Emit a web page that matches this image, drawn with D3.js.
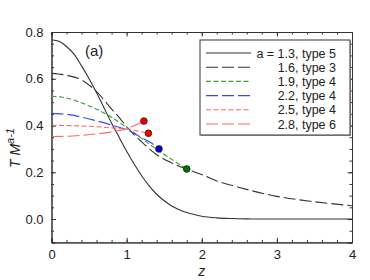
<!DOCTYPE html>
<html><head><meta charset="utf-8">
<script src="https://cdn.jsdelivr.net/npm/d3@7"></script>
<style>
html,body{margin:0;padding:0;background:#fff;}
svg text{font-family:"Liberation Sans",Arial,sans-serif;}
</style></head>
<body><svg id="c" width="370" height="280"></svg>
<script>
// ---- data ----
const z13 = [0,0.1,0.2,0.3,0.4,0.5,0.6,0.7,0.8,0.9,1.0,1.1,1.2,1.3,1.4,1.5,1.6,1.7,1.8,1.9,2.0,2.2,2.4,2.6,2.8,3.0,3.5,4.0];
const v13 = [0.767,0.760,0.738,0.705,0.655,0.600,0.540,0.475,0.410,0.350,0.290,0.235,0.185,0.142,0.106,0.078,0.056,0.040,0.028,0.019,0.012,0.005,0.002,0.0005,0,0,0,0];
const z16 = [0,0.2,0.4,0.6,0.8,0.9,1.0,1.2,1.4,1.6,1.8,2.0,2.2,2.5,3.0,3.5,4.0];
const v16 = [0.623,0.615,0.595,0.545,0.47,0.435,0.395,0.33,0.275,0.24,0.213,0.19,0.163,0.135,0.097,0.074,0.057];
const z19 = [0,0.2,0.4,0.6,0.8,1.0,1.2,1.4,1.6,1.8];
const v19 = [0.525,0.518,0.497,0.47,0.435,0.392,0.345,0.298,0.255,0.214];
const z22 = [0,0.2,0.4,0.6,0.8,1.0,1.2,1.33,1.43];
const v22 = [0.452,0.448,0.436,0.42,0.402,0.382,0.348,0.325,0.30];
const z25 = [0,0.2,0.4,0.6,0.8,1.0,1.2,1.29];
const v25 = [0.401,0.400,0.398,0.395,0.39,0.384,0.373,0.367];
const z28 = [0,0.2,0.4,0.6,0.8,1.0,1.1,1.23];
const v28 = [0.353,0.354,0.358,0.364,0.373,0.386,0.399,0.419];
const legendLabels = ["a = 1.3, type 5","1.6, type 3","1.9, type 4","2.2, type 4","2.5, type 4","2.8, type 6"];
const xTicks = [0,1,2,3,4];
const yTicks = [0.0,0.2,0.4,0.6,0.8];

const series = [
  {z:z13, v:v13, color:"#333333", dash:null, dot:null},
  {z:z16, v:v16, color:"#333333", dash:"12,4", dot:null},
  {z:z19, v:v19, color:"#33a033", dash:"5,2.5", dot:"#007000"},
  {z:z22, v:v22, color:"#4040ff", dash:"12,4", dot:"#0000dd"},
  {z:z25, v:v25, color:"#ff6666", dash:"5,2.5", dot:"#ee0000"},
  {z:z28, v:v28, color:"#ff6666", dash:"12,4", dot:"#ee0000"}
];

const svg = d3.select("#c");
const L=51.5, R=352, T=32, B=242.4;
const x = d3.scaleLinear().domain([0,4]).range([L,R]);
const y = d3.scaleLinear().domain([-0.1,0.8]).range([B,T]);

svg.append("clipPath").attr("id","clip").append("rect")
  .attr("x",L).attr("y",T).attr("width",R-L).attr("height",B-T);

const axCol="#333";
const xMinor = d3.range(0,4.0001,0.2);
const yMinor = d3.range(-0.1,0.8001,0.05);
const g = svg.append("g");
const xa = d3.axisBottom(x).tickValues(xMinor).tickSize(-2.5).tickFormat("");
const xaM = d3.axisBottom(x).tickValues(xTicks).tickSize(-4.5).tickFormat(d3.format("d")).tickPadding(7);
const xt = d3.axisTop(x).tickValues(xMinor).tickSize(-2.5).tickFormat("");
const xtM = d3.axisTop(x).tickValues(xTicks).tickSize(-4.5).tickFormat("");
const ya = d3.axisLeft(y).tickValues(yMinor).tickSize(-2.5).tickFormat("");
const yaM = d3.axisLeft(y).tickValues(yTicks).tickSize(-4.5).tickFormat(d3.format(".1f")).tickPadding(8);
const yr = d3.axisRight(y).tickValues(yMinor).tickSize(-2.5).tickFormat("");
const yrM = d3.axisRight(y).tickValues(yTicks).tickSize(-4.5).tickFormat("");
[[xa,`translate(0,${B})`],[xaM,`translate(0,${B})`],[xt,`translate(0,${T})`],[xtM,`translate(0,${T})`],
 [ya,`translate(${L},0)`],[yaM,`translate(${L},0)`],[yr,`translate(${R},0)`],[yrM,`translate(${R},0)`]].forEach(([a,t])=>{
  const gg=g.append("g").attr("transform",t).call(a);
  gg.select(".domain").attr("stroke",axCol);
  gg.selectAll(".tick line").attr("stroke",axCol);
  gg.selectAll("text").attr("fill","#222").style("font-size","13px").style("font-family","Liberation Sans, Arial, sans-serif");
});

// curves
const line = d3.line().x(d=>x(d[0])).y(d=>y(d[1])).curve(d3.curveMonotoneX);
const plot = svg.append("g").attr("clip-path","url(#clip)");
series.forEach(s=>{
  const pts = s.z.map((zz,i)=>[zz,s.v[i]]);
  plot.append("path").attr("d",line(pts)).attr("fill","none")
    .attr("stroke",s.color).attr("stroke-width",1.1)
    .attr("stroke-dasharray",s.dash);
});
series.forEach(s=>{
  if(!s.dot) return;
  const n=s.z.length-1;
  svg.append("circle").attr("cx",x(s.z[n])).attr("cy",y(s.v[n])).attr("r",3.4)
    .attr("fill",s.dot).attr("stroke","#222").attr("stroke-width",0.7);
});

// legend
const lg = svg.append("g");
lg.append("rect").attr("x",201).attr("y",41).attr("width",150).attr("height",95).attr("fill","#aaa");
lg.append("rect").attr("x",200).attr("y",40).attr("width",150).attr("height",95)
  .attr("fill","#fff").attr("stroke","#333").attr("stroke-width",1);
series.forEach((s,i)=>{
  const yy = 53 + i*14.2;
  lg.append("line").attr("x1",206).attr("x2",251).attr("y1",yy).attr("y2",yy)
    .attr("stroke",s.color).attr("stroke-width",1.1).attr("stroke-dasharray",s.dash);
  lg.append("text").attr("x",336).attr("y",yy+4.5).attr("text-anchor","end")
    .style("font-size","12.5px").attr("fill","#222").text(legendLabels[i]);
});

// labels
svg.append("text").attr("x",85).attr("y",55.5).style("font-size","15px").attr("fill","#222").text("(a)");
svg.append("text").attr("x",x(2)).attr("y",276).attr("text-anchor","middle")
  .style("font-size","14px").style("font-style","italic").attr("fill","#222").text("z");
const yl = svg.append("text").attr("transform","translate(20,148) rotate(-90)").attr("text-anchor","middle")
  .style("font-style","italic").attr("fill","#222");
yl.append("tspan").style("font-size","14px").text("T M");
yl.append("tspan").attr("dy",-6).style("font-size","11px").text("a-1");
</script></body></html>
